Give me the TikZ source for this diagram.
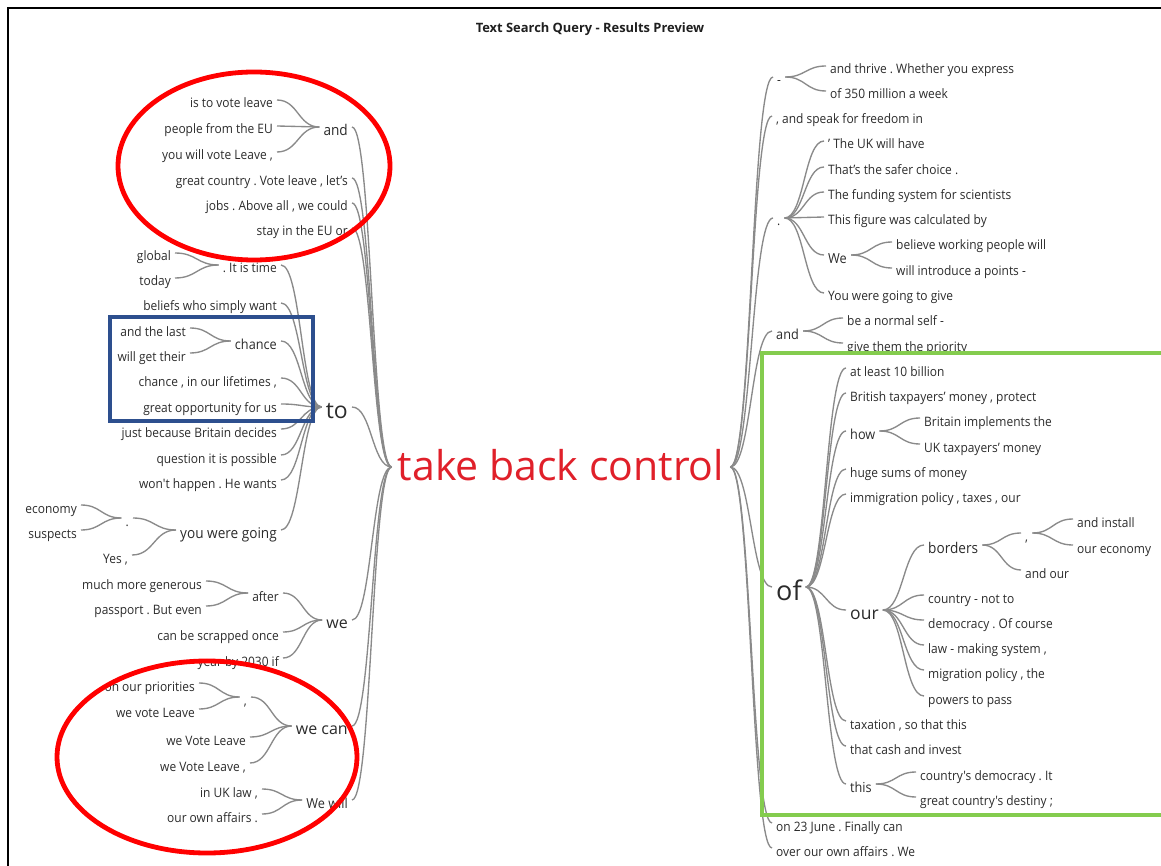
\documentclass[tikz,border=0pt]{standalone}
\usepackage{fontspec}
\setmainfont{Open Sans}
\newfontfamily\smf{Open Sans}[FakeStretch=0.92]
\usetikzlibrary{calc}
\definecolor{txt}{HTML}{2B2B2B}
\definecolor{ln}{HTML}{8A8A8A}
\definecolor{ctr}{HTML}{E0202A}
\definecolor{annred}{HTML}{FF0000}
\definecolor{annblue}{HTML}{2D4F8E}
\definecolor{anngreen}{HTML}{84CC4E}
\newcommand\wtfs[1]{\fontsize{#1}{#1}\selectfont\frenchspacing}
\tikzset{
  tx/.style={inner xsep=4pt, inner ysep=0pt, text=txt, font=\smf\wtfs{13}, text height=11.5pt, text depth=1.5pt},
  L/.style={tx, anchor=east},
  R/.style={tx, anchor=west},
  s13/.style={font=\smf\wtfs{13.8}, text height=12pt, text depth=1.6pt},
  s14/.style={font=\smf\wtfs{14.8}, text height=12.6pt, text depth=1.7pt},
  s16/.style={font=\rmfamily\wtfs{16}, text height=13pt, text depth=2pt},
  s18/.style={font=\rmfamily\wtfs{17.5}, text height=14pt, text depth=2pt},
  s23/.style={font=\rmfamily\wtfs{23}, text height=18pt, text depth=2pt},
  s27/.style={font=\rmfamily\wtfs{27}, text height=22pt, text depth=2pt},
  wt/.style={to path={let \p1=($(\tikztostart)+(0,3pt)$), \p2=($(\tikztotarget)+(0,3pt)$), \p3=($(\p1)!0.5!(\p2)$) in (\p1) .. controls (\x3,\y1) and (\x3,\y2) .. (\p2)}},
  br/.style={draw=ln, line width=1.35pt, wt},
  ann/.style={line width=4.8pt}
}
\begin{document}
\begin{tikzpicture}[x=1pt,y=-1pt]
\useasboundingbox (0,0) rectangle (1161,866);
\clip (0,0) rectangle (1161,866);
% frame and title
\draw[black, line width=1.3pt] (8,870) -- (8,8) -- (1170,8);
\node[font=\rmfamily\bfseries\wtfs{12.9}, text=black!88] (title) at (590,29) {Text Search Query - Results Preview};
% centre
\node[text=ctr, font=\rmfamily\wtfs{41}, inner xsep=6pt, inner ysep=0pt, text height=30pt, text depth=10pt] (C) at (561,470) {take back control};
% ---------------- left side ----------------
\node[L,s14] (and) at (352,130) {and};
\node[L] (gc) at (352,181) {great country . Vote leave , let’s};
\node[L] (jobs) at (352,206) {jobs . Above all , we could};
\node[L] (stay) at (352,231) {stay in the EU or};
\node[L,s23] (to) at (352,410) {to};
\node[L,s16] (we) at (352,623) {we};
\node[L,s16] (wecan) at (352,729) {we can};
\node[L,s13] (wewill) at (352,803) {We will};
% and
\node[L] (istv) at (277,103) {is to vote leave};
\node[L] (people) at (277,129) {people from the EU};
\node[L] (youwill) at (277,155) {you will vote Leave ,};
% to
\node[L] (itis) at (281,268) {. It is time};
\node[L] (beliefs) at (281,306) {beliefs who simply want};
\node[L,s13] (chance) at (281,344) {chance};
\node[L] (chlife) at (281,381) {chance , in our lifetimes ,};
\node[L] (great) at (281,407) {great opportunity for us};
\node[L] (just) at (281,432) {just because Britain decides};
\node[L] (question) at (281,458) {question it is possible};
\node[L] (wont) at (281,483) {won't happen . He wants};
\node[L,s14] (youwere) at (281,533) {you were going};
% . It is time
\node[L] (global) at (175,256) {global};
\node[L] (today) at (175,281) {today};
% chance
\node[L] (andlast) at (190,331) {and the last};
\node[L] (willget) at (190,356) {will get their};
% you were going
\node[L] (dotA) at (133,521) {.};
\node[L] (yes) at (132,558) {Yes ,};
\node[L] (economy) at (81,508) {economy};
\node[L] (suspects) at (81,533) {suspects};
% we
\node[L] (after) at (283,596) {after};
\node[L] (scrapped) at (283,635) {can be scrapped once};
\node[L] (year) at (283,661) {year by 2030 if};
\node[L] (generous) at (206,584) {much more generous};
\node[L] (passport) at (206,609) {passport . But even};
% we can
\node[L] (commaA) at (251,700) {,};
\node[L] (wvl1) at (250,740) {we Vote Leave};
\node[L] (wvl2) at (250,766) {we Vote Leave ,};
\node[L] (priorities) at (199,686) {on our priorities};
\node[L] (votel) at (199,712) {we vote Leave};
% We will
\node[L] (uklaw) at (262,792) {in UK law ,};
\node[L] (affairs) at (262,817) {our own affairs .};
% ---------------- right side ----------------
\node[R] (dash) at (773,80) {-};
\node[R] (speak) at (772,119) {, and speak for freedom in};
\node[R] (dot2) at (773,221) {.};
\node[R,s13] (and2) at (772,334) {and};
\node[R,s27] (of) at (772,590) {of};
\node[R] (june) at (772,826) {on 23 June . Finally can};
\node[R] (over) at (772,851) {over our own affairs . We};
% -
\node[R] (thrive) at (826,69) {and thrive . Whether you express};
\node[R] (million) at (826,94) {of 350 million a week};
% .
\node[R] (ukwill) at (824,144) {’ The UK will have};
\node[R] (safer) at (824,170) {That’s the safer choice .};
\node[R] (funding) at (824,195) {The funding system for scientists};
\node[R] (figure) at (824,220) {This figure was calculated by};
\node[R,s13] (We2) at (824,258) {We};
\node[R] (give) at (824,296) {You were going to give};
\node[R] (believe) at (892,245) {believe working people will};
\node[R] (introduce) at (892,271) {will introduce a points -};
% and
\node[R] (normal) at (843,321) {be a normal self -};
\node[R] (priority) at (843,346) {give them the priority};
% of
\node[R] (least) at (846,371) {at least 10 billion};
\node[R] (british) at (846,396) {British taxpayers’ money , protect};
\node[R,s13] (how) at (846,434) {how};
\node[R] (huge) at (846,472) {huge sums of money};
\node[R] (immig) at (846,497) {immigration policy , taxes , our};
\node[R,s18] (our) at (846,613) {our};
\node[R] (taxation) at (846,724) {taxation , so that this};
\node[R] (cash) at (846,749) {that cash and invest};
\node[R,s13] (this) at (846,787) {this};
\node[R] (implements) at (920,421) {Britain implements the};
\node[R] (ukmoney) at (920,447) {UK taxpayers’ money};
\node[R,s14] (borders) at (924,548) {borders};
\node[R] (country) at (924,598) {country - not to};
\node[R] (democracy) at (924,623) {democracy . Of course};
\node[R] (lawmaking) at (924,648) {law - making system ,};
\node[R] (migration) at (924,673) {migration policy , the};
\node[R] (powers) at (924,699) {powers to pass};
\node[R] (commaB) at (1021,536) {,};
\node[R] (andour) at (1021,573) {and our};
\node[R] (install) at (1073,522) {and install};
\node[R] (economy2) at (1073,548) {our economy};
\node[R] (cdem) at (916,775) {country's democracy . It};
\node[R] (destiny) at (916,800) {great country's destiny ;};
% ---------------- connectors ----------------
\foreach \k in {and,gc,jobs,stay,to,we,wecan,wewill} \draw[br] (\k.east) to (C.west);
\foreach \k in {istv,people,youwill} \draw[br] (\k.east) to (and.west);
\foreach \k in {itis,beliefs,chance,chlife,great,just,question,wont,youwere} \draw[br] (\k.east) to (to.west);
\foreach \k in {global,today} \draw[br] (\k.east) to (itis.west);
\foreach \k in {andlast,willget} \draw[br] (\k.east) to (chance.west);
\foreach \k in {dotA,yes} \draw[br] (\k.east) to (youwere.west);
\foreach \k in {economy,suspects} \draw[br] (\k.east) to (dotA.west);
\foreach \k in {after,scrapped,year} \draw[br] (\k.east) to (we.west);
\foreach \k in {generous,passport} \draw[br] (\k.east) to (after.west);
\foreach \k in {commaA,wvl1,wvl2} \draw[br] (\k.east) to (wecan.west);
\foreach \k in {priorities,votel} \draw[br] (\k.east) to (commaA.west);
\foreach \k in {uklaw,affairs} \draw[br] (\k.east) to (wewill.west);
\foreach \k in {dash,speak,dot2,and2,of,june,over} \draw[br] (C.east) to (\k.west);
\foreach \k in {thrive,million} \draw[br] (dash.east) to (\k.west);
\foreach \k in {ukwill,safer,funding,figure,We2,give} \draw[br] (dot2.east) to (\k.west);
\foreach \k in {believe,introduce} \draw[br] (We2.east) to (\k.west);
\foreach \k in {normal,priority} \draw[br] (and2.east) to (\k.west);
\foreach \k in {least,british,how,huge,immig,our,taxation,cash,this} \draw[br] (of.east) to (\k.west);
\foreach \k in {implements,ukmoney} \draw[br] (how.east) to (\k.west);
\foreach \k in {borders,country,democracy,lawmaking,migration,powers} \draw[br] (our.east) to (\k.west);
\foreach \k in {commaB,andour} \draw[br] (borders.east) to (\k.west);
\foreach \k in {install,economy2} \draw[br] (commaB.east) to (\k.west);
\foreach \k in {cdem,destiny} \draw[br] (this.east) to (\k.west);
% ---------------- annotations ----------------
\draw[ann, annred] (254,166) ellipse [x radius=136pt, y radius=94pt];
\draw[ann, annred] (207,757) ellipse [x radius=150pt, y radius=96pt];
\draw[ann, annblue] (110,317) rectangle (313,421);
\draw[ann, anngreen] (762,353) rectangle (1185,815);
\end{tikzpicture}
\end{document}
